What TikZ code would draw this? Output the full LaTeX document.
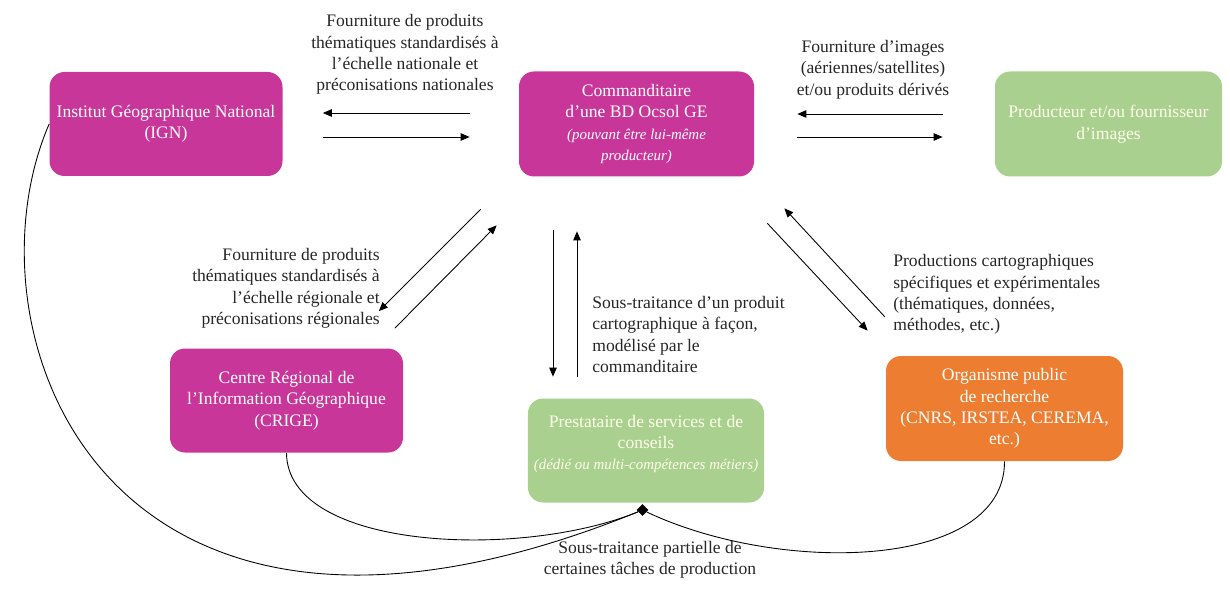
\documentclass[tikz,border=0pt]{standalone}
\usepackage{fontspec}
\setmainfont{Liberation Serif}
\usepackage{tikz}
\usetikzlibrary{arrows.meta,shapes.geometric}

\definecolor{ignpink}{RGB}{200,54,154}
\definecolor{leafgreen}{RGB}{169,208,142}
\definecolor{rustorange}{RGB}{237,125,49}

\tikzset{
  actor/.style={rounded corners=0.3cm, minimum width=4.66cm, minimum height=2.08cm,
    align=center, text=white, font=\fontsize{10}{12.2}\selectfont},
  pinkactor/.style={actor, fill=ignpink},
  greenactor/.style={actor, fill=leafgreen, text=white!92!yellow},
  orangeactor/.style={actor, fill=rustorange},
  note/.style={font=\fontsize{10}{12.2}\selectfont, text=black!85, inner sep=0pt},
  flow/.style={-{Triangle[length=1.8mm,width=1.5mm]}, line width=0.5pt},
  link/.style={line width=0.5pt},
}
\newcommand{\sidenote}[1]{{\fontsize{8.5}{12.2}\selectfont\itshape #1}}

\begin{document}
\begin{tikzpicture}
	\useasboundingbox (0,0) rectangle (24.6,-11.9);
	% acteurs
	\node[pinkactor] (ign) at (3.32,-2.48) {Institut Géographique National\\(IGN)};
	\node[pinkactor, minimum width=4.7cm, minimum height=2.1cm] (comm) at (12.73,-2.48)
		{Commanditaire\\d’une BD Ocsol GE\\\sidenote{(pouvant être lui-même}\\\sidenote{producteur)}};
	\node[greenactor, minimum width=4.54cm, minimum height=2.1cm] (prod) at (22.17,-2.48)
		{Producteur et/ou fournisseur\\d’images};
	\node[pinkactor] (crige) at (5.73,-8.01) {Centre Régional de\\l’Information Géographique\\(CRIGE)};
	\node[greenactor] (prest) at (12.92,-9.01)
		{Prestataire de services et de\\conseils\\\sidenote{(dédié ou multi-compétences métiers)}\\[-3pt]};
	\node[orangeactor, minimum width=4.74cm, minimum height=2.1cm] (org) at (20.09,-8.17)
		{Organisme public\\de recherche\\(CNRS, IRSTEA, CEREMA,\\etc.)};
	% textes des flux
	\node[note, align=center] (natl) at (8.1,-1.09)
		{Fourniture de produits\\thématiques standardisés à\\l’échelle nationale et\\préconisations nationales};
	\node[note, align=center] (imgs) at (17.46,-1.39)
		{Fourniture d’images\\(aériennes/satellites)\\et/ou produits dérivés};
	\node[note, align=right, anchor=east] (regl) at (7.6,-5.77)
		{Fourniture de produits\\thématiques standardisés à\\l’échelle régionale et\\préconisations régionales};
	\node[note, align=left, anchor=west] (sous) at (11.84,-6.69)
		{Sous-traitance d’un produit\\cartographique à façon,\\modélisé par le\\commanditaire};
	\node[note, align=left, anchor=west] (expe) at (17.86,-5.89)
		{Productions cartographiques\\spécifiques et expérimentales\\(thématiques, données,\\méthodes, etc.)};
	\node[note, align=center] (part) at (13.0,-11.2)
		{Sous-traitance partielle de\\certaines tâches de production};
	% flux horizontaux
	\draw[flow, shorten <=0.98cm, shorten >=0.8cm] ([yshift=0.22cm]comm.west) -- ([yshift=0.22cm]ign.east);
	\draw[flow, shorten <=0.8cm, shorten >=0.98cm] ([yshift=-0.26cm]ign.east) -- ([yshift=-0.26cm]comm.west);
	\draw[flow, shorten <=1.04cm, shorten >=0.86cm] ([yshift=0.2cm]prod.west) -- ([yshift=0.2cm]comm.east);
	\draw[flow, shorten <=0.86cm, shorten >=1.04cm] ([yshift=-0.26cm]comm.east) -- ([yshift=-0.26cm]prod.west);
	% flux obliques et verticaux
	\draw[flow] ([shift={(-0.76,-0.65)}]comm.south west) -- ([shift={(-0.49,0.74)}]crige.north east);
	\draw[flow] ([shift={(-0.17,0.4)}]crige.north east) -- ([shift={(-0.44,-0.97)}]comm.south west);
	\draw[flow] ([shift={(-1.67,-1.07)}]comm.south) -- ([shift={(-1.86,0.43)}]prest.north);
	\draw[flow] ([shift={(-1.38,0.43)}]prest.north) -- ([shift={(-1.19,-1.09)}]comm.south);
	\draw[flow] ([shift={(0.26,-0.93)}]comm.south east) -- ([shift={(-0.36,0.5)}]org.north west);
	\draw[flow] ([shift={(-0.02,0.78)}]org.north west) -- ([shift={(0.6,-0.63)}]comm.south east);
	% sous-traitance partielle
	\node[diamond, fill=black, inner sep=0pt, minimum size=0.24cm] (joint) at (12.85,-10.2) {};
	\draw[link] (ign.west) .. controls (-0.8,-6.6) and (2.0,-14.6) .. (joint);
	\draw[link] (crige.south) .. controls (5.74,-11.0) and (10.4,-11.2) .. (joint);
	\draw[link] (org.south) .. controls (20.1,-11.4) and (15.6,-11.5) .. (joint);
\end{tikzpicture}
\end{document}
